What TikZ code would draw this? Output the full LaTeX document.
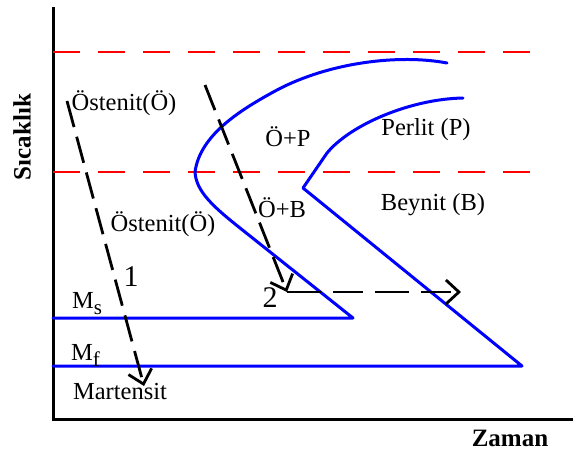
\documentclass[tikz,border=0pt]{standalone}
\usepackage{fontspec}
\setmainfont{Liberation Serif}
\usetikzlibrary{arrows.meta}
\newcommand{\subsc}[1]{\raisebox{-6pt}{\fontsize{21}{24}\selectfont #1}}
\begin{document}
\begin{tikzpicture}[x=1pt,y=-1pt,
  lbl/.style={inner sep=0pt,font=\fontsize{24.5}{28}\selectfont},
  numlbl/.style={inner sep=0pt,font=\fontsize{30}{34}\selectfont},
  axisline/.style={line width=3pt},
  redline/.style={red,line width=1.4pt,dash pattern=on 27pt off 18pt},
  blueline/.style={blue,line width=3pt,line join=round,line cap=round},
  coolarrow/.style={line width=2.8pt,dash pattern=on 27pt off 10pt,
     -{Straight Barb[length=13pt,width=24pt,line width=2.8pt]}}]
\useasboundingbox (0,0) rectangle (573,451);
% axes
\coordinate (ytop) at (53,7);
\coordinate (orig) at (53,419);
\coordinate (xend) at (573,419);
\draw[axisline] (ytop) -- (orig) -- (xend);
% red dashed
\coordinate (r1a) at (53,52); \coordinate (r1b) at (537,52);
\coordinate (r2a) at (53,172); \coordinate (r2b) at (537,172);
\draw[redline] (r1a) -- (r1b);
\draw[redline] (r2a) -- (r2b);
% blue curves
\coordinate (mstip) at (353,318);
\coordinate (mftip) at (522,366);
\draw[blueline] (447,63) .. controls (400,54) and (330,62) .. (277,90)
   .. controls (240,110) and (200,135) .. (195,172)
   .. controls (196,192) and (215,208) .. (240,228) -- (mstip) -- (53,318);
\draw[blueline] (463,98) .. controls (410,99) and (350,125) .. (327,153)
   -- (303,188) -- (mftip) -- (53,366);
% cooling paths
\coordinate (a1s) at (67,101);
\coordinate (a1e) at (144,386);
\coordinate (a2s) at (205,85);
\coordinate (a2c) at (287,292);
\coordinate (a2e) at (461,292);
\draw[coolarrow] (a1s) -- (a1e);
\draw[coolarrow] (a2s) -- (a2c);
\draw[coolarrow,dash pattern=on 34pt off 12pt on 30pt off 12pt] (a2c) -- (a2e);
% labels
\node[lbl] (ost1) at (124,103) {Östenit(Ö)};
\node[lbl] (ost2) at (163,224) {Östenit(Ö)};
\node[lbl] (op) at (288,137) {Ö+P};
\node[lbl] (ob) at (282,208) {Ö+B};
\node[lbl] (perlit) at (426,130) {Perlit (P)};
\node[lbl] (beynit) at (433,205) {Beynit (B)};
\node[numlbl] (n1) at (131,277) {1};
\node[numlbl] (n2) at (270,298) {2};
\node[lbl,anchor=base west] (ms) at (72,308) {M\subsc{s}};
\node[lbl,anchor=base west] (mf) at (71,360) {M\subsc{f}};
\node[lbl] (mart) at (120,391) {Martensit};
\node[lbl,font=\fontsize{25}{28}\selectfont\bfseries] (zaman) at (510,438) {Zaman};
\node[lbl,font=\fontsize{25}{28}\selectfont\bfseries,rotate=90] (sic) at (22,137) {Sıcaklık};
\end{tikzpicture}
\end{document}
